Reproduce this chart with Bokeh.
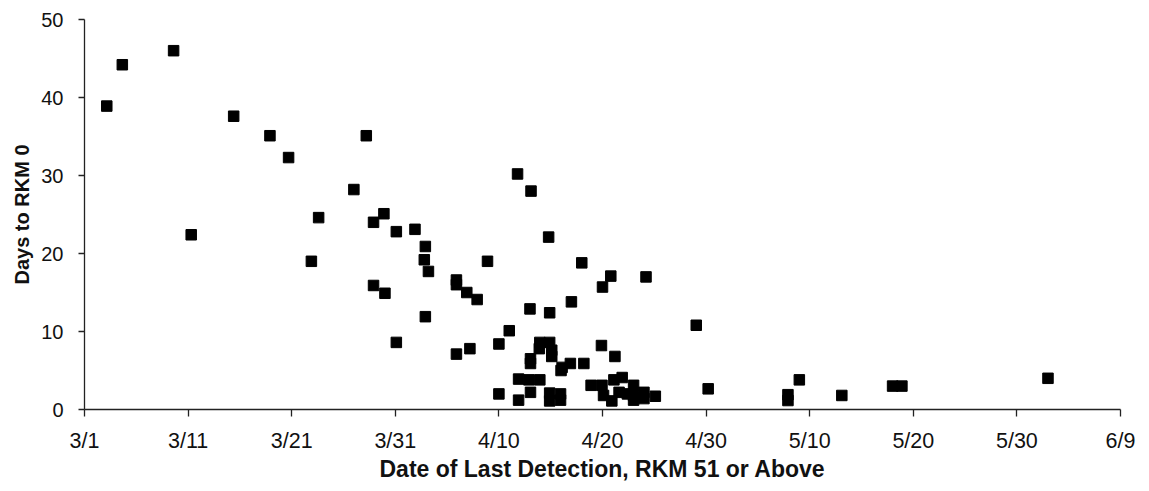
from bokeh.plotting import figure
from bokeh.models import Range1d, FixedTicker, ColumnDataSource
from bokeh.embed import file_html
from bokeh.resources import INLINE

# Days since 3/1 of the last detection at RKM 51 or above
days_since_mar1 = [
    2.15, 3.65, 8.6, 10.3, 14.4, 17.9, 19.7, 21.9, 22.6, 26.0,
    27.2, 27.9, 28.9, 27.9, 29.0, 30.1, 30.1, 31.9, 32.9, 32.8,
    33.2, 32.9, 35.9, 35.9, 36.9, 37.9, 38.9, 35.9, 37.2, 40.0,
    41.0, 40.0, 41.8, 43.1, 44.8, 43.0, 44.9, 41.9, 41.9, 42.9,
    43.05, 43.05, 43.05, 43.95, 43.9, 43.95, 44.9, 45.1, 45.1, 44.9,
    44.9, 45.95, 45.95, 46.1, 46.0, 46.9, 47.0, 48.0, 48.2, 48.9,
    49.9, 50.0, 50.8, 51.2, 49.95, 50.1, 50.9, 51.1, 51.9, 51.6,
    52.4, 53.0, 53.0, 53.0, 54.0, 54.0, 55.1, 54.2, 59.05, 60.2,
    67.9, 67.9, 69.0, 73.1, 78.0, 78.9, 93.0,
]
days_to_rkm0 = [
    38.9, 44.2, 46.0, 22.4, 37.6, 35.1, 32.3, 19.0, 24.6, 28.2,
    35.1, 24.0, 25.1, 15.9, 14.9, 22.8, 8.6, 23.1, 20.9, 19.2,
    17.7, 11.9, 16.6, 16.0, 15.0, 14.1, 19.0, 7.1, 7.8, 8.4,
    10.1, 2.0, 30.2, 28.0, 22.1, 12.9, 12.4, 3.9, 1.2, 3.8,
    6.5, 5.9, 2.2, 8.6, 7.8, 3.8, 8.6, 7.6, 6.8, 2.1,
    1.1, 2.0, 1.2, 5.4, 5.0, 5.9, 13.8, 18.8, 5.9, 3.1,
    8.2, 15.7, 17.1, 6.8, 3.1, 1.8, 1.1, 3.8, 4.1, 2.2,
    2.0, 3.1, 1.8, 1.2, 2.2, 1.4, 1.7, 17.0, 10.8, 2.65,
    1.9, 1.15, 3.8, 1.8, 3.0, 3.0, 4.0,
]

x_tick_values = [0, 10, 20, 30, 40, 50, 60, 70, 80, 90, 100]
x_tick_labels = ["3/1", "3/11", "3/21", "3/31", "4/10", "4/20",
                 "4/30", "5/10", "5/20", "5/30", "6/9"]
y_tick_values = [0, 10, 20, 30, 40, 50]

source = ColumnDataSource(data=dict(x=days_since_mar1, y=days_to_rkm0))

p = figure(width=1141, height=489, output_backend="svg", toolbar_location=None,
           x_range=Range1d(0, 100), y_range=Range1d(0, 50),
           min_border_left=84, min_border_right=21,
           min_border_top=19, min_border_bottom=80)
p.outline_line_color = None
p.xgrid.visible = False
p.ygrid.visible = False
p.background_fill_color = "white"
p.border_fill_color = "white"

p.scatter("x", "y", source=source, marker="square", size=10.5,
          fill_color="black", line_color="black")

font = "Liberation Sans"

p.xaxis.ticker = FixedTicker(ticks=x_tick_values)
p.xaxis.major_label_overrides = {v: l for v, l in zip(x_tick_values, x_tick_labels)}
p.yaxis.ticker = FixedTicker(ticks=y_tick_values)

for ax in (p.xaxis, p.yaxis):
    ax.axis_line_color = "#222222"
    ax.axis_line_width = 1.3
    ax.major_tick_line_color = "#222222"
    ax.major_tick_line_width = 1.3
    ax.major_tick_in = 0
    ax.minor_tick_line_color = None
    ax.major_label_text_font = font
    ax.major_label_text_color = "#111111"
    ax.axis_label_text_font = font
    ax.axis_label_text_font_style = "bold"
    ax.axis_label_text_color = "#111111"

p.xaxis.major_label_text_font_size = "21.5px"
p.yaxis.major_label_text_font_size = "20px"
p.xaxis.axis_label_text_font_size = "23px"
p.yaxis.axis_label_text_font_size = "20px"

p.xaxis.major_tick_out = 7
p.yaxis.major_tick_out = 6
p.xaxis.major_label_standoff = 12
p.yaxis.major_label_standoff = 15
p.xaxis.axis_label = "Date of Last Detection, RKM 51 or Above"
p.yaxis.axis_label = "Days to RKM 0"
p.xaxis.axis_label_standoff = 0
p.yaxis.axis_label_standoff = 5

open("out.html", "w").write(file_html(p, INLINE))
